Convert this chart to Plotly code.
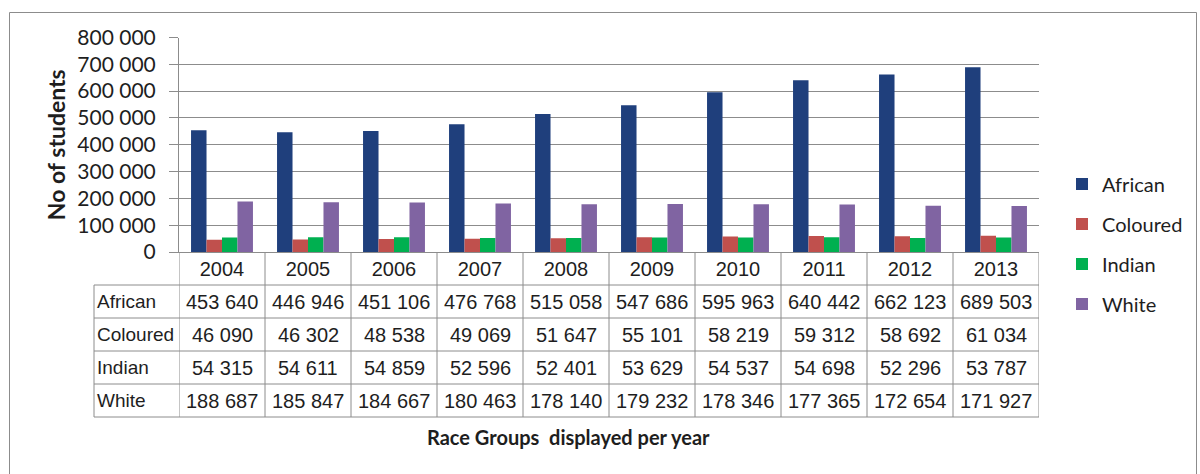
import plotly.graph_objects as go

# Student enrolment by population group, 2004-2013
years = ["2004", "2005", "2006", "2007", "2008", "2009", "2010", "2011", "2012", "2013"]
african = [453640, 446946, 451106, 476768, 515058, 547686, 595963, 640442, 662123, 689503]
coloured = [46090, 46302, 48538, 49069, 51647, 55101, 58219, 59312, 58692, 61034]
indian = [54315, 54611, 54859, 52596, 52401, 53629, 54537, 54698, 52296, 53787]
white = [188687, 185847, 184667, 180463, 178140, 179232, 178346, 177365, 172654, 171927]
group_names = ["African", "Coloured", "Indian", "White"]
y_ticks = [0, 100000, 200000, 300000, 400000, 500000, 600000, 700000, 800000]

series = [african, coloured, indian, white]
colors = ["#1F3F7C", "#C0504D", "#00B050", "#8064A2"]

W, H = 1200, 474
GRID = "#8C8C8C"
TEXT = "#1E1E1E"
LABEL_FONT = "Lato"
TABLE_FONT = "Liberation Sans"
TABLE_SIZE = 20
ROW_LABEL_SIZE = 19


def px(x):
    return x / W


def py(y):
    return 1 - y / H


def fmt(v):
    return f"{v:,}".replace(",", " ")


plot_left, plot_right = 179, 1039
plot_top, plot_bottom = 37.5, 252
row_h = 33
label_left = 94

fig = go.Figure()
for name, vals, col in zip(group_names, series, colors):
    fig.add_trace(go.Bar(
        x=years, y=vals, name=name, legendgroup=name,
        marker=dict(color=col, line=dict(width=0)),
    ))

shapes = []
# outer chart frame
shapes.append(dict(type="rect", xref="paper", yref="paper",
                   x0=px(9.5), x1=px(1196.5), y0=-0.05, y1=py(12.5),
                   line=dict(color=GRID, width=1)))
# data table: horizontal rules
for i in range(1, 6):
    yy = plot_bottom + i * row_h
    shapes.append(dict(type="line", xref="paper", yref="paper",
                       x0=px(label_left), x1=px(plot_right), y0=py(yy), y1=py(yy),
                       line=dict(color=GRID, width=1)))
# data table: vertical rules
shapes.append(dict(type="line", xref="paper", yref="paper",
                   x0=px(label_left), x1=px(label_left),
                   y0=py(plot_bottom + row_h), y1=py(plot_bottom + 5 * row_h),
                   line=dict(color=GRID, width=1)))
for k in range(len(years) + 1):
    shapes.append(dict(type="line", xref="x", yref="paper",
                       x0=k - 0.5, x1=k - 0.5,
                       y0=py(plot_bottom), y1=py(plot_bottom + 5 * row_h),
                       line=dict(color=GRID, width=1)))

annotations = []
for r, (name, vals) in enumerate(zip(group_names, series)):
    yc = py(plot_bottom + (r + 1.5) * row_h)
    annotations.append(dict(xref="paper", yref="paper", x=px(label_left + 1), y=yc,
                            text=name, showarrow=False, xanchor="left", yanchor="middle",
                            font=dict(family=TABLE_FONT, size=ROW_LABEL_SIZE, color=TEXT)))
    for k, v in enumerate(vals):
        annotations.append(dict(xref="x", yref="paper", x=k, y=yc,
                                text=fmt(v), showarrow=False, xanchor="center", yanchor="middle",
                                font=dict(family=TABLE_FONT, size=TABLE_SIZE, color=TEXT)))
annotations.append(dict(xref="paper", yref="paper", x=px(568), y=py(437),
                        text="<b>Race Groups  displayed per year</b>", showarrow=False,
                        xanchor="center", yanchor="middle",
                        font=dict(family=LABEL_FONT, size=20, color=TEXT)))

fig.update_layout(
    width=W, height=H,
    margin=dict(l=0, r=0, t=0, b=0, autoexpand=False),
    paper_bgcolor="white", plot_bgcolor="white",
    separators=". ",
    barmode="group", bargap=0.28, bargroupgap=0,
    shapes=shapes, annotations=annotations,
    showlegend=True,
    legend=dict(x=px(1062), y=py(164.5), xanchor="left", yanchor="top",
                font=dict(family=LABEL_FONT, size=20, color=TEXT),
                tracegroupgap=11, traceorder="grouped",
                bgcolor="rgba(0,0,0,0)"),
    xaxis=dict(domain=[px(plot_left), px(plot_right)], range=[-0.5, 9.5],
               type="category", showgrid=False, showline=True, linecolor=GRID,
               automargin=False,
               ticks="", tickfont=dict(family=TABLE_FONT, size=TABLE_SIZE, color=TEXT),
               ticklabelstandoff=-1),
    yaxis=dict(domain=[py(plot_bottom), py(plot_top)], range=[0, 800000],
               automargin=False,
               tickvals=y_ticks, tickformat=",d",
               showgrid=True, gridcolor=GRID, gridwidth=1,
               showline=True, linecolor=GRID, zeroline=False,
               ticks="outside", ticklen=9, tickcolor=GRID,
               ticklabelstandoff=9,
               tickfont=dict(family=LABEL_FONT, size=21, color=TEXT),
               title=dict(text="<b>No of students</b>", standoff=5,
                          font=dict(family=LABEL_FONT, size=23, color=TEXT))),
)

fig.write_html("out.html")
